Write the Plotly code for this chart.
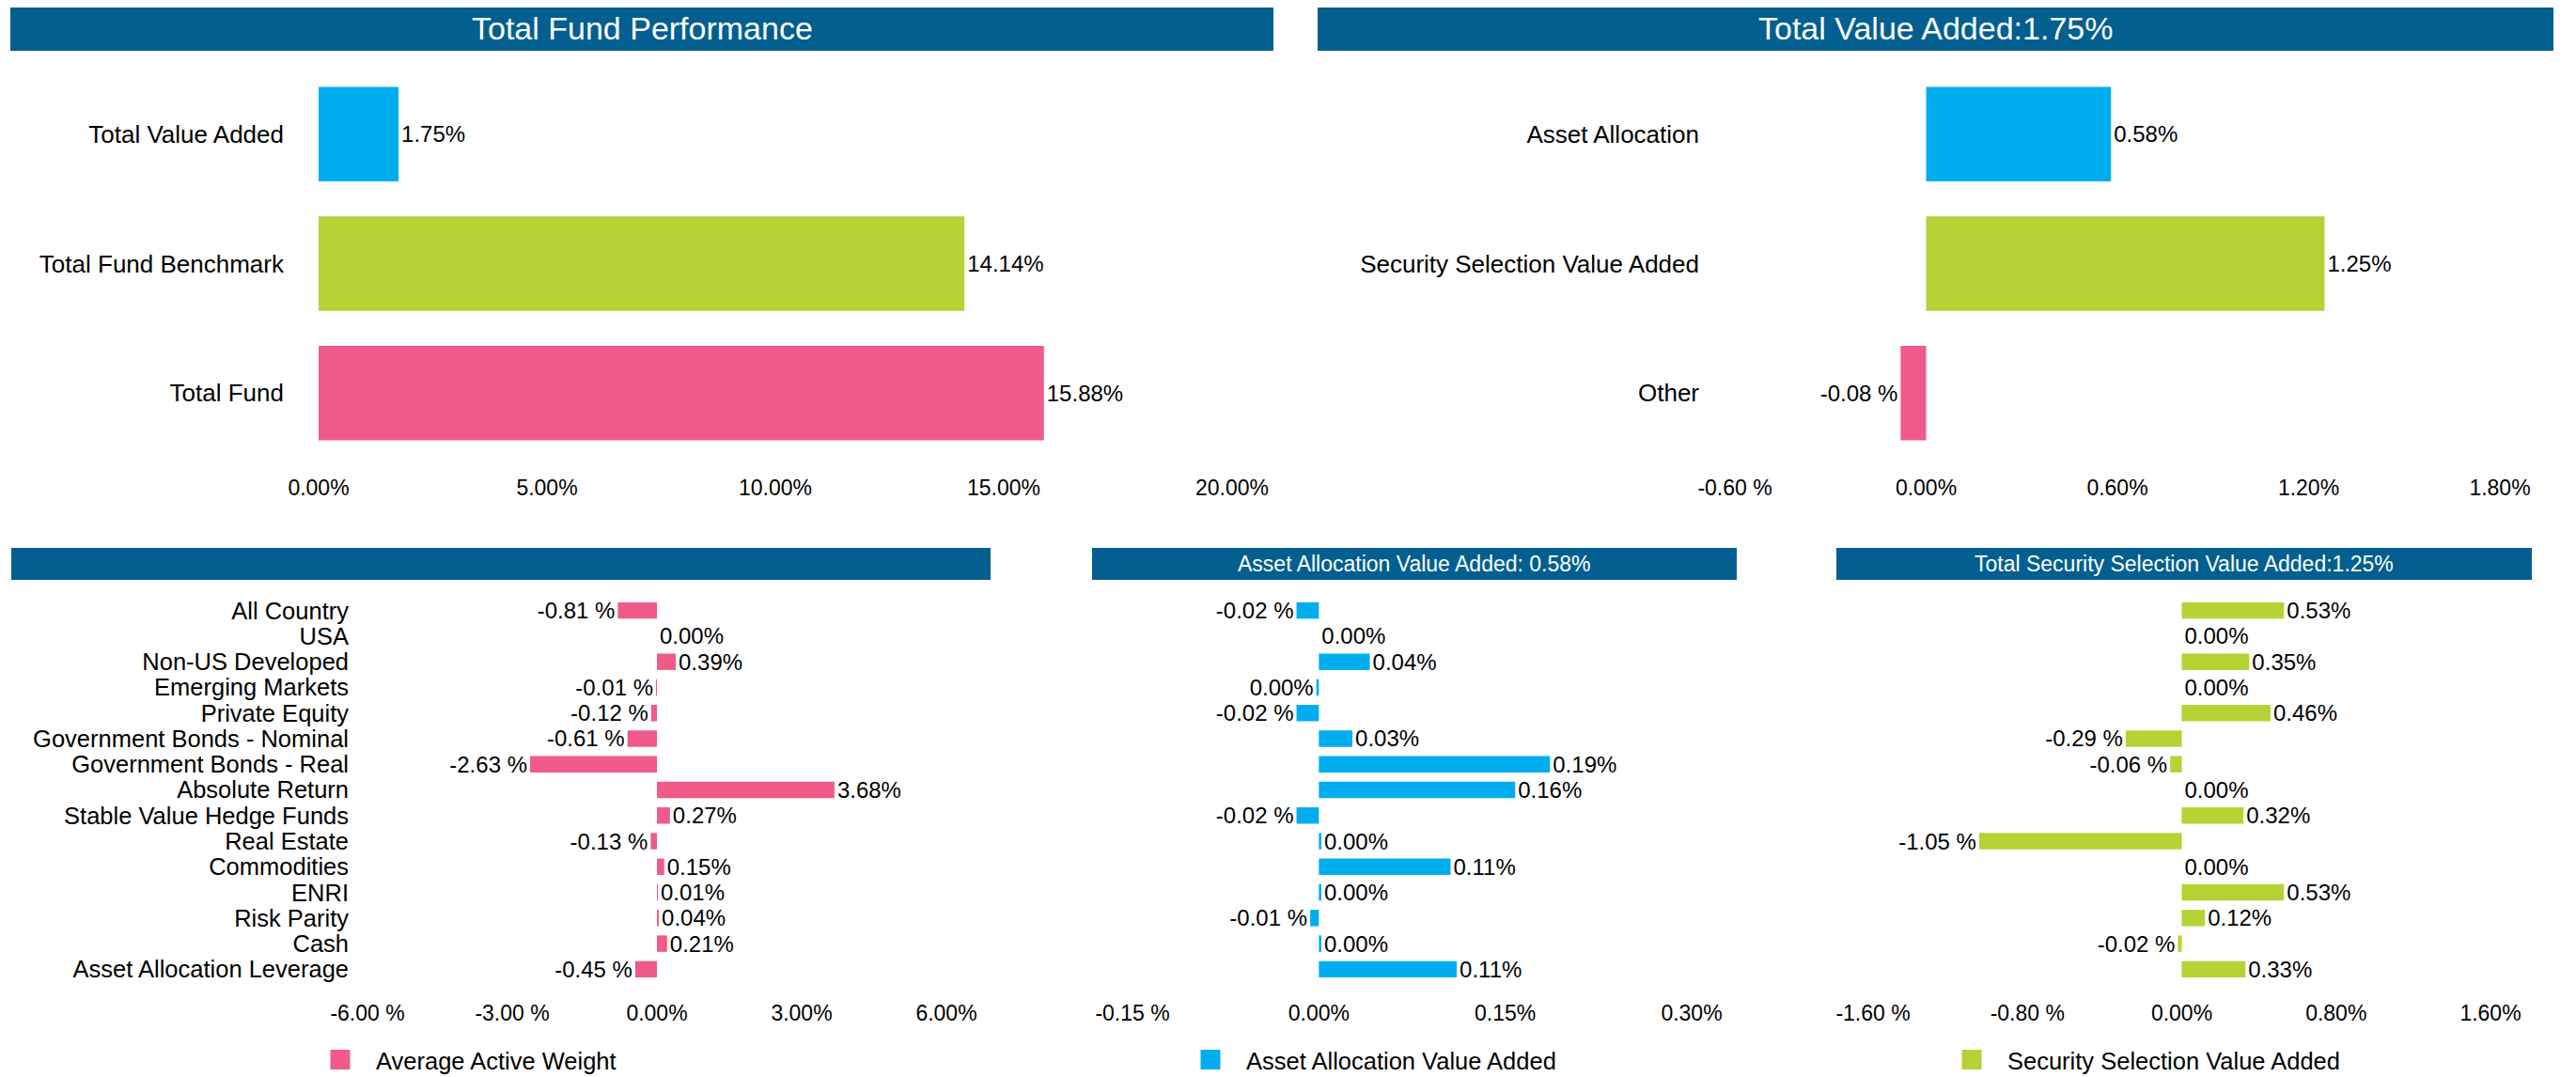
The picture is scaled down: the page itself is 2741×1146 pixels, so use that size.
import plotly.graph_objects as go

# page body has an 8px margin: figure placed at (8, 8) in the window
OFF = 8
W, H = 2741 - OFF, 1146 - OFF

# ---------------- data ----------------
top_left_cats = ["Total Value Added", "Total Fund Benchmark", "Total Fund"]
top_left_vals = [1.75, 14.14, 15.88]

top_right_cats = ["Asset Allocation", "Security Selection Value Added", "Other"]
top_right_vals = [0.58, 1.25, -0.08]

asset_classes = ["All Country", "USA", "Non-US Developed", "Emerging Markets", "Private Equity",
                 "Government Bonds - Nominal", "Government Bonds - Real", "Absolute Return",
                 "Stable Value Hedge Funds", "Real Estate", "Commodities", "ENRI", "Risk Parity",
                 "Cash", "Asset Allocation Leverage"]
avg_active_weight = [-0.81, 0.00, 0.39, -0.01, -0.12, -0.61, -2.63, 3.68, 0.27, -0.13, 0.15, 0.01, 0.04, 0.21, -0.45]
asset_alloc_va = [-0.018, 0.00, 0.041, -0.002, -0.018, 0.027, 0.186, 0.158, -0.018, 0.002, 0.106, 0.002, -0.007, 0.002, 0.111]
security_sel_va = [0.53, 0.00, 0.35, 0.00, 0.46, -0.29, -0.06, 0.00, 0.32, -1.05, 0.00, 0.53, 0.12, -0.02, 0.33]

series_names = ["Average Active Weight", "Asset Allocation Value Added", "Security Selection Value Added"]
titles = ["Total Fund Performance", "Total Value Added:1.75%", "",
          "Asset Allocation Value Added: 0.58%", "Total Security Selection Value Added:1.25%"]

BLUE = "#00AEEF"
GREEN = "#B4D334"
PINK = "#F05A89"
NAVY = "#035F8F"
FONT = "Arial, Liberation Sans, sans-serif"


def fmt(v):
    r = round(v, 2)
    if r < 0:
        return f"{r:.2f} %"
    return f"{abs(r):.2f}%"


def px_x(p):
    return (p - OFF) / W


def px_y(p):
    return 1 - (p - OFF) / H


fig = go.Figure()


def add_bar(vals, cats, colors, xa, ya, width):
    fig.add_trace(go.Bar(
        x=vals, y=cats, orientation="h", width=width,
        marker=dict(color=colors, line=dict(width=0)),
        text=[fmt(v) for v in vals], textposition="outside", constraintext="none",
        textfont=dict(size=24, color="black"), cliponaxis=False,
        showlegend=False, xaxis=xa, yaxis=ya, hoverinfo="x+y"))


add_bar(top_left_vals, top_left_cats, [BLUE, GREEN, PINK], "x", "y", 0.73)
add_bar(top_right_vals, top_right_cats, [BLUE, GREEN, PINK], "x2", "y2", 0.73)
add_bar(avg_active_weight, asset_classes, PINK, "x3", "y3", 0.64)
add_bar(asset_alloc_va, asset_classes, BLUE, "x4", "y4", 0.64)
add_bar(security_sel_va, asset_classes, GREEN, "x5", "y5", 0.64)

# legend entries (square swatches) for the three bottom series
for name, col, xa, ya, lg in zip(series_names, [PINK, BLUE, GREEN],
                                 ["x3", "x4", "x5"], ["y3", "y4", "y5"],
                                 ["legend", "legend2", "legend3"]):
    fig.add_trace(go.Scatter(
        x=[None], y=[None], mode="markers", name=name,
        marker=dict(symbol="square", size=16, color=col, line=dict(width=5, color=col)),
        showlegend=True, legend=lg, xaxis=xa, yaxis=ya))


def xaxis(domain, rng, dtick, anchor, standoff):
    vals = []
    v = rng[0]
    while v <= rng[1] + 1e-9:
        vals.append(round(v, 4))
        v += dtick
    return dict(domain=domain, range=rng, anchor=anchor, tickmode="array", tickvals=vals,
                ticktext=[fmt(t) for t in vals], showgrid=False, zeroline=False,
                showline=False, ticks="", tickfont=dict(size=23, color="black"),
                automargin=False, ticklabelstandoff=standoff, fixedrange=True)


top_dom = [px_y(487), px_y(74)]
bot_dom = [px_y(1045), px_y(636)]


def yaxis(domain, cats, anchor, show, standoff, fs):
    return dict(domain=domain, anchor=anchor, type="category", categoryorder="array",
                categoryarray=cats, autorange="reversed", showgrid=False, zeroline=False,
                showline=False, ticks="", showticklabels=show,
                tickmode="array", tickvals=cats, ticktext=cats,
                tickfont=dict(size=fs, color="black"), ticklabelstandoff=standoff,
                automargin=False, fixedrange=True)


legend_common = dict(xanchor="left", yanchor="middle", itemwidth=66,
                     font=dict(size=25.5, color="black"), bgcolor="rgba(0,0,0,0)")

layout = dict(
    width=W, height=H, margin=dict(l=0, r=0, t=0, b=0, pad=0, autoexpand=False),
    paper_bgcolor="white", plot_bgcolor="white",
    font=dict(family=FONT, size=24, color="black"),
    barmode="relative",
    xaxis=xaxis([px_x(339), px_x(1311)], [0, 20], 5, "y", 16),
    yaxis=yaxis(top_dom, top_left_cats, "x", True, 36, 26),
    xaxis2=xaxis([px_x(1846), px_x(2660)], [-0.6, 1.8], 0.6, "y2", 16),
    yaxis2=yaxis(top_dom, top_right_cats, "x2", True, 37, 26),
    xaxis3=xaxis([px_x(391), px_x(1007)], [-6, 6], 3, "y3", 17),
    yaxis3=yaxis(bot_dom, asset_classes, "x3", True, 19, 25.5),
    xaxis4=xaxis([px_x(1205), px_x(1800)], [-0.15, 0.30], 0.15, "y4", 17),
    yaxis4=yaxis(bot_dom, asset_classes, "x4", False, 0, 25),
    xaxis5=xaxis([px_x(1993), px_x(2650)], [-1.6, 1.6], 0.8, "y5", 17),
    yaxis5=yaxis(bot_dom, asset_classes, "x5", False, 0, 25),
    legend=dict(x=px_x(324), y=px_y(1128), **legend_common),
    legend2=dict(x=px_x(1250), y=px_y(1128), **legend_common),
    legend3=dict(x=px_x(2060), y=px_y(1128), **legend_common),
)
fig.update_layout(**layout)

# title bars
bars = [
    (11, 1355, 6, 54, 34),
    (1402, 2717, 6, 54, 34),
    (12, 1054, 583, 617, 23),
    (1162, 1848, 583, 617, 23),
    (1954, 2694, 583, 617, 23),
]
shapes = []
annotations = []
for (x0, x1, y0, y1, fs), t in zip(bars, titles):
    shapes.append(dict(type="rect", xref="paper", yref="paper",
                       x0=px_x(x0), x1=px_x(x1), y0=px_y(y1), y1=px_y(y0),
                       fillcolor=NAVY, line=dict(width=0), layer="below"))
    if t:
        annotations.append(dict(xref="paper", yref="paper", x=px_x((x0 + x1) / 2),
                                y=px_y((y0 + y1) / 2), text=t, showarrow=False,
                                xanchor="center", yanchor="middle",
                                font=dict(size=fs, color="white", family=FONT)))
fig.update_layout(shapes=shapes, annotations=annotations)

fig.write_html("out.html")
